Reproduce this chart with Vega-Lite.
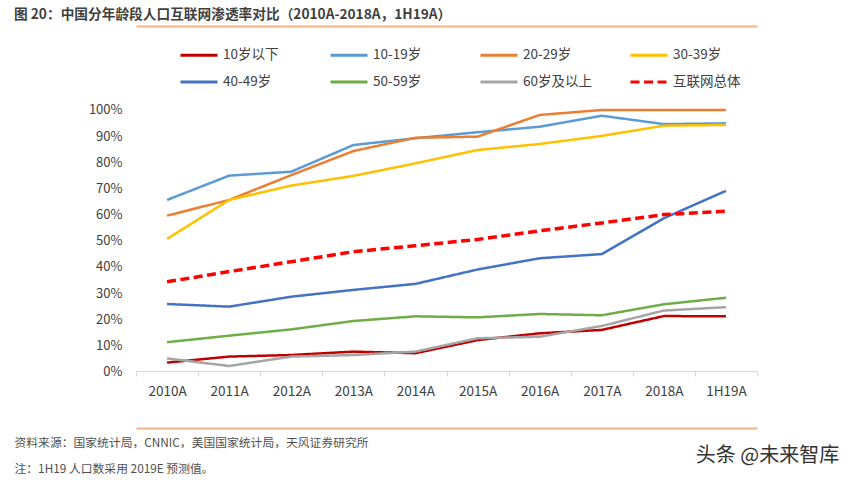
{
  "$schema": "https://vega.github.io/schema/vega-lite/v6.json",
  "width": 860,
  "height": 402,
  "autosize": {"type": "none"},
  "padding": {"left": 0, "top": 26, "right": 0, "bottom": 55},
  "background": "white",
  "config": {"font": "Noto Sans CJK SC", "view": {"stroke": null}},
  "title": {
    "text": "图 20：中国分年龄段人口互联网渗透率对比（2010A-2018A，1H19A）",
    "anchor": "start",
    "frame": "group",
    "dx": 14,
    "offset": 6,
    "dy": 8,
    "fontSize": 13.7,
    "fontWeight": 600,
    "color": "#3f3f3f"
  },
  "data": {
    "values": [
      {"year": "2010A", "series": "10岁以下", "value": 0.034},
      {"year": "2011A", "series": "10岁以下", "value": 0.057},
      {"year": "2012A", "series": "10岁以下", "value": 0.063},
      {"year": "2013A", "series": "10岁以下", "value": 0.076},
      {"year": "2014A", "series": "10岁以下", "value": 0.070},
      {"year": "2015A", "series": "10岁以下", "value": 0.120},
      {"year": "2016A", "series": "10岁以下", "value": 0.146},
      {"year": "2017A", "series": "10岁以下", "value": 0.159},
      {"year": "2018A", "series": "10岁以下", "value": 0.212},
      {"year": "1H19A", "series": "10岁以下", "value": 0.211},
      {"year": "2010A", "series": "10-19岁", "value": 0.656},
      {"year": "2011A", "series": "10-19岁", "value": 0.749},
      {"year": "2012A", "series": "10-19岁", "value": 0.764},
      {"year": "2013A", "series": "10-19岁", "value": 0.866},
      {"year": "2014A", "series": "10-19岁", "value": 0.892},
      {"year": "2015A", "series": "10-19岁", "value": 0.915},
      {"year": "2016A", "series": "10-19岁", "value": 0.936},
      {"year": "2017A", "series": "10-19岁", "value": 0.978},
      {"year": "2018A", "series": "10-19岁", "value": 0.946},
      {"year": "1H19A", "series": "10-19岁", "value": 0.949},
      {"year": "2010A", "series": "20-29岁", "value": 0.596},
      {"year": "2011A", "series": "20-29岁", "value": 0.656},
      {"year": "2012A", "series": "20-29岁", "value": 0.751},
      {"year": "2013A", "series": "20-29岁", "value": 0.843},
      {"year": "2014A", "series": "20-29岁", "value": 0.894},
      {"year": "2015A", "series": "20-29岁", "value": 0.898},
      {"year": "2016A", "series": "20-29岁", "value": 0.981},
      {"year": "2017A", "series": "20-29岁", "value": 1.0},
      {"year": "2018A", "series": "20-29岁", "value": 1.0},
      {"year": "1H19A", "series": "20-29岁", "value": 1.0},
      {"year": "2010A", "series": "30-39岁", "value": 0.507},
      {"year": "2011A", "series": "30-39岁", "value": 0.656},
      {"year": "2012A", "series": "30-39岁", "value": 0.711},
      {"year": "2013A", "series": "30-39岁", "value": 0.748},
      {"year": "2014A", "series": "30-39岁", "value": 0.796},
      {"year": "2015A", "series": "30-39岁", "value": 0.847},
      {"year": "2016A", "series": "30-39岁", "value": 0.870},
      {"year": "2017A", "series": "30-39岁", "value": 0.901},
      {"year": "2018A", "series": "30-39岁", "value": 0.940},
      {"year": "1H19A", "series": "30-39岁", "value": 0.943},
      {"year": "2010A", "series": "40-49岁", "value": 0.258},
      {"year": "2011A", "series": "40-49岁", "value": 0.248},
      {"year": "2012A", "series": "40-49岁", "value": 0.286},
      {"year": "2013A", "series": "40-49岁", "value": 0.312},
      {"year": "2014A", "series": "40-49岁", "value": 0.335},
      {"year": "2015A", "series": "40-49岁", "value": 0.390},
      {"year": "2016A", "series": "40-49岁", "value": 0.433},
      {"year": "2017A", "series": "40-49岁", "value": 0.449},
      {"year": "2018A", "series": "40-49岁", "value": 0.586},
      {"year": "1H19A", "series": "40-49岁", "value": 0.691},
      {"year": "2010A", "series": "50-59岁", "value": 0.112},
      {"year": "2011A", "series": "50-59岁", "value": 0.137},
      {"year": "2012A", "series": "50-59岁", "value": 0.161},
      {"year": "2013A", "series": "50-59岁", "value": 0.193},
      {"year": "2014A", "series": "50-59岁", "value": 0.211},
      {"year": "2015A", "series": "50-59岁", "value": 0.207},
      {"year": "2016A", "series": "50-59岁", "value": 0.220},
      {"year": "2017A", "series": "50-59岁", "value": 0.215},
      {"year": "2018A", "series": "50-59岁", "value": 0.257},
      {"year": "1H19A", "series": "50-59岁", "value": 0.282},
      {"year": "2010A", "series": "60岁及以上", "value": 0.050},
      {"year": "2011A", "series": "60岁及以上", "value": 0.021},
      {"year": "2012A", "series": "60岁及以上", "value": 0.057},
      {"year": "2013A", "series": "60岁及以上", "value": 0.063},
      {"year": "2014A", "series": "60岁及以上", "value": 0.076},
      {"year": "2015A", "series": "60岁及以上", "value": 0.127},
      {"year": "2016A", "series": "60岁及以上", "value": 0.133},
      {"year": "2017A", "series": "60岁及以上", "value": 0.174},
      {"year": "2018A", "series": "60岁及以上", "value": 0.233},
      {"year": "1H19A", "series": "60岁及以上", "value": 0.246},
      {"year": "2010A", "series": "互联网总体", "value": 0.343},
      {"year": "2011A", "series": "互联网总体", "value": 0.382},
      {"year": "2012A", "series": "互联网总体", "value": 0.420},
      {"year": "2013A", "series": "互联网总体", "value": 0.458},
      {"year": "2014A", "series": "互联网总体", "value": 0.481},
      {"year": "2015A", "series": "互联网总体", "value": 0.505},
      {"year": "2016A", "series": "互联网总体", "value": 0.538},
      {"year": "2017A", "series": "互联网总体", "value": 0.568},
      {"year": "2018A", "series": "互联网总体", "value": 0.600},
      {"year": "1H19A", "series": "互联网总体", "value": 0.613}
    ]
  },
  "mark": {"type": "line", "strokeCap": "butt", "strokeJoin": "round"},
  "encoding": {
    "x": {
      "field": "year",
      "type": "ordinal",
      "sort": ["2010A", "2011A", "2012A", "2013A", "2014A", "2015A", "2016A", "2017A", "2018A", "1H19A"],
      "scale": {"type": "band", "paddingInner": 0, "paddingOuter": 0, "range": [136, 757]},
      "axis": {
        "offset": -57,
        "domainColor": "#d9d9d9",
        "domainWidth": 1,
        "tickColor": "#d9d9d9",
        "tickSize": 5,
        "tickBand": "extent",
        "labelPadding": 8,
        "labelAngle": 0,
        "labelFontSize": 13.5,
        "labelColor": "#404040",
        "title": ["资料来源：国家统计局，CNNIC，美国国家统计局，天风证券研究所", "注：1H19 人口数采用 2019E 预测值。"],
        "titleX": 14,
        "titleY": 66,
        "titleAlign": "left",
        "titleBaseline": "top",
        "titleFontSize": 11.8,
        "titleFontWeight": "normal",
        "titleColor": "#505050",
        "titleLineHeight": 26.7
      }
    },
    "y": {
      "field": "value",
      "type": "quantitative",
      "scale": {"domain": [-0.2161, 1.3212], "nice": false, "zero": false},
      "axis": {
        "values": [-0.2155, 0, 0.1, 0.2, 0.3, 0.4, 0.5, 0.6, 0.7, 0.8, 0.9, 1, 1.3205],
        "labelExpr": "datum.value < -0.05 || datum.value > 1.05 ? '' : format(datum.value, '.0%')",
        "labelOverlap": false,
        "domain": false,
        "ticks": false,
        "tickSize": 0,
        "labelPadding": -122,
        "labelFontSize": 13,
        "labelColor": "#404040",
        "grid": true,
        "gridColor": "#f4b183",
        "gridWidth": 2,
        "gridOpacity": {"condition": {"test": "datum.value < -0.05 || datum.value > 1.05", "value": 1}, "value": 0},
        "title": "头条 @未来智库",
        "titleAngle": 0,
        "titleX": 767,
        "titleY": 429,
        "titleAlign": "center",
        "titleBaseline": "middle",
        "titleFontSize": 20,
        "titleFontWeight": "normal",
        "titleColor": "#333333"
      }
    },
    "color": {
      "field": "series",
      "type": "nominal",
      "scale": {
        "domain": ["10岁以下", "10-19岁", "20-29岁", "30-39岁", "40-49岁", "50-59岁", "60岁及以上", "互联网总体"],
        "range": ["#c00000", "#5b9bd5", "#ed7d31", "#ffc000", "#4472c4", "#70ad47", "#a5a5a5", "#ff0000"]
      },
      "legend": {
        "orient": "none",
        "legendX": 179,
        "legendY": 9,
        "direction": "horizontal",
        "columns": 4,
        "gridAlign": "all",
        "title": null,
        "symbolType": "stroke",
        "symbolSize": 1369,
        "symbolStrokeWidth": 3,
        "labelFontSize": 13.5,
        "labelColor": "#404040",
        "labelOffset": 4,
        "labelLimit": 200,
        "columnPadding": 32,
        "rowPadding": -15,
        "padding": 0
      }
    },
    "strokeDash": {
      "field": "series",
      "type": "nominal",
      "scale": {
        "domain": ["10岁以下", "10-19岁", "20-29岁", "30-39岁", "40-49岁", "50-59岁", "60岁及以上", "互联网总体"],
        "range": [[1, 0], [1, 0], [1, 0], [1, 0], [1, 0], [1, 0], [1, 0], [9, 4.5]]
      },
      "legend": {
        "orient": "none",
        "legendX": 179,
        "legendY": 9,
        "direction": "horizontal",
        "columns": 4,
        "gridAlign": "all",
        "title": null,
        "symbolType": "stroke",
        "symbolSize": 1369,
        "symbolStrokeWidth": 3,
        "labelFontSize": 13.5,
        "labelColor": "#404040",
        "labelOffset": 4,
        "labelLimit": 200,
        "columnPadding": 32,
        "rowPadding": -15,
        "padding": 0
      }
    },
    "strokeWidth": {
      "condition": {"test": "datum.series === '互联网总体'", "value": 3.5},
      "value": 2.5
    }
  }
}
